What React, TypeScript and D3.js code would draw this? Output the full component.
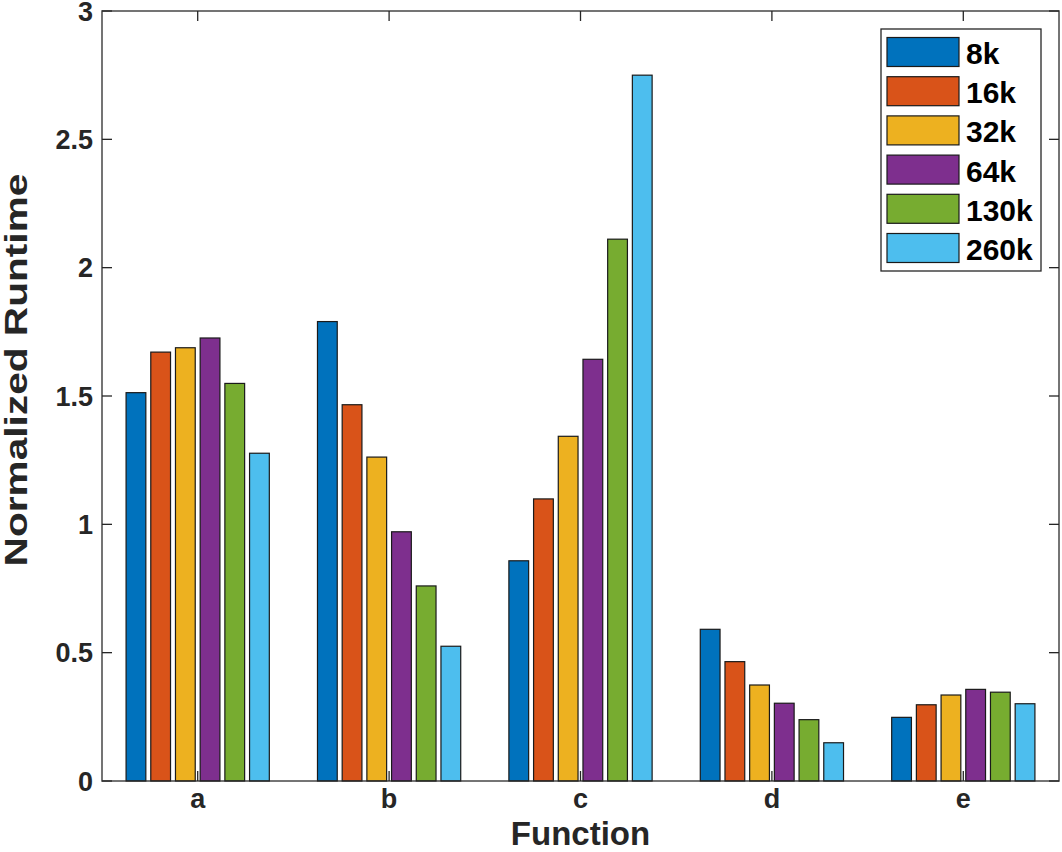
import React from "react";
import * as d3 from "d3";

const categories = ["a", "b", "c", "d", "e"];
const seriesNames = ["8k", "16k", "32k", "64k", "130k", "260k"];
const seriesColors = ["#0072BD", "#D95319", "#EDB120", "#7E2F8E", "#77AC30", "#4DBEEE"];
// values[series][category]
const v8k = [1.513, 1.79, 0.858, 0.591, 0.248];
const v16k = [1.671, 1.466, 1.099, 0.465, 0.297];
const v32k = [1.688, 1.262, 1.343, 0.374, 0.335];
const v64k = [1.726, 0.971, 1.643, 0.303, 0.357];
const v130k = [1.549, 0.76, 2.111, 0.239, 0.346];
const v260k = [1.277, 0.525, 2.75, 0.149, 0.301];
const seriesValues = [v8k, v16k, v32k, v64k, v130k, v260k];
const yTicks = [0, 0.5, 1, 1.5, 2, 2.5, 3];
const yTickLabels = ["0", "0.5", "1", "1.5", "2", "2.5", "3"];

const W = 1062;
const H = 852;
const L = 102;
const R = 1059;
const T = 11;
const B = 781;
const AX = "#262626";
const FONT = "'Liberation Sans', Arial, Helvetica, sans-serif";

export default function App() {
  const x = d3.scaleBand<string>().domain(categories).range([L, R]).paddingInner(0.2).paddingOuter(0.1);
  const xs = d3.scaleBand<string>().domain(seriesNames).range([0, x.bandwidth()]).padding(0.2);
  const y = d3.scaleLinear().domain([0, 3]).range([B, T]);
  const xc = (c: string) => (x(c) as number) + x.bandwidth() / 2;
  const tick = 10;

  const legX = 881;
  const legY = 29;
  const legW = 160;
  const legH = 242;
  const rowH = 39.2;

  return (
    <svg width={W} height={H} style={{ position: "absolute", left: 0, top: 0, background: "#fff" }} fontFamily={FONT}>
      <rect x={0} y={0} width={W} height={H} fill="#fff" />
      {/* bars */}
      {seriesNames.map((s, si) =>
        categories.map((c, ci) => {
          const v = seriesValues[si][ci];
          return (
            <rect
              key={s + c}
              x={(x(c) as number) + (xs(s) as number)}
              y={y(v)}
              width={xs.bandwidth()}
              height={y(0) - y(v)}
              fill={seriesColors[si]}
              stroke="#1a1a1a"
              strokeWidth={1.2}
            />
          );
        })
      )}
      {/* axes box */}
      <rect x={L} y={T} width={R - L} height={B - T} fill="none" stroke={AX} strokeWidth={1.5} opacity={0.85} />
      {/* y ticks */}
      {yTicks.map((t, i) => (
        <g key={"yt" + i}>
          <line x1={L} x2={L + tick} y1={y(t)} y2={y(t)} stroke={AX} strokeWidth={1.3} />
          <line x1={R} x2={R - tick} y1={y(t)} y2={y(t)} stroke={AX} strokeWidth={1.3} />
          <text x={L - 9} y={y(t)} dy="0.36em" textAnchor="end" fontSize={27} fontWeight="bold" fill="#262626">
            {yTickLabels[i]}
          </text>
        </g>
      ))}
      {/* x ticks */}
      {categories.map((c) => (
        <g key={"xt" + c}>
          <line x1={xc(c)} x2={xc(c)} y1={B} y2={B - tick} stroke={AX} strokeWidth={1.3} />
          <line x1={xc(c)} x2={xc(c)} y1={T} y2={T + tick} stroke={AX} strokeWidth={1.3} />
          <text x={xc(c)} y={808} textAnchor="middle" fontSize={27} fontWeight="bold" fill="#262626">
            {c}
          </text>
        </g>
      ))}
      {/* axis labels */}
      <text x={(L + R) / 2} y={845} textAnchor="middle" fontSize={33} fontWeight="bold" fill="#262626">
        Function
      </text>
      <text
        transform={`translate(27, 370) rotate(-90) scale(1.27, 1)`}
        textAnchor="middle"
        fontSize={32}
        fontWeight="bold"
        fill="#262626"
      >
        Normalized Runtime
      </text>
      {/* legend */}
      <rect x={legX} y={legY} width={legW} height={legH} fill="#fff" stroke={AX} strokeWidth={1.3} />
      {seriesNames.map((s, i) => {
        const cy = legY + 23 + i * rowH;
        return (
          <g key={"lg" + s}>
            <rect x={legX + 6} y={cy - 14.5} width={72} height={29} fill={seriesColors[i]} stroke="#1a1a1a" strokeWidth={1.2} />
            <text x={legX + 85} y={cy + 12} fontSize={30} fontWeight="bold" fill="#000">
              {s}
            </text>
          </g>
        );
      })}
    </svg>
  );
}
